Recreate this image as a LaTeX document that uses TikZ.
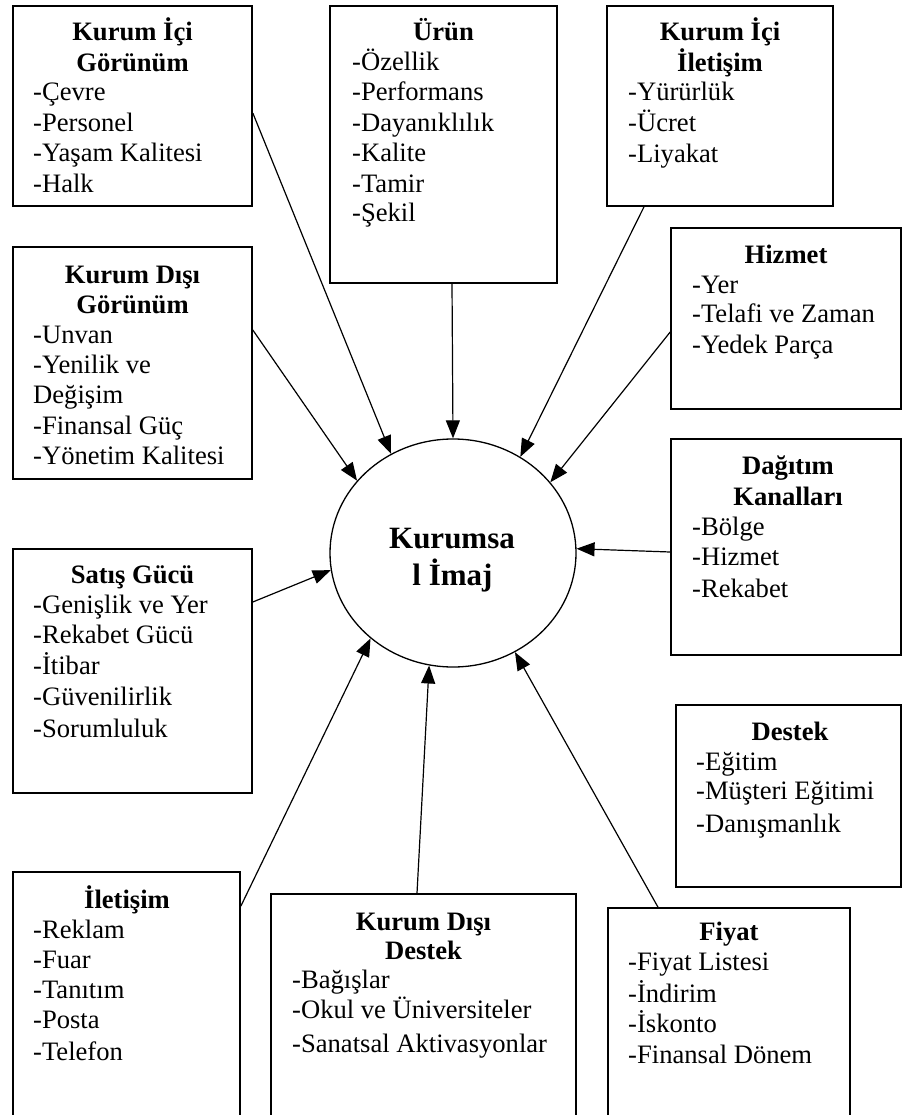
\documentclass[tikz,border=0pt]{standalone}
\usepackage{fontspec}
\setmainfont{Liberation Serif}
\usetikzlibrary{arrows.meta,shapes.geometric,calc}
\tikzset{
  box/.style={draw, rectangle, line width=1.6pt, inner sep=0pt},
  hd/.style={anchor=base, inner sep=0pt, font=\fontsize{26.6}{30.5}\selectfont\bfseries},
  itm/.style={anchor=base west, inner sep=0pt, font=\fontsize{26.6}{30.5}\selectfont},
  ctr/.style={anchor=base, inner sep=0pt, font=\fontsize{31}{37}\selectfont\bfseries},
  arr/.style={-{Triangle[length=18pt,width=14pt]}, line width=1.2pt}
}
\begin{document}
\begin{tikzpicture}[x=1pt,y=-1pt]
\clip (0,0) rectangle (902,1115);
\fill[white] (0,0) rectangle (902,1115);

% boxes
\node[box, minimum width=239pt, minimum height=200pt] (kig) at (132.5,106) {};
\node[box, minimum width=227pt, minimum height=277pt] (urun) at (443.5,144.5) {};
\node[box, minimum width=226pt, minimum height=200pt] (kii) at (720,106) {};
\node[box, minimum width=230pt, minimum height=181pt] (hiz) at (786,318.5) {};
\node[box, minimum width=239pt, minimum height=232pt] (kdg) at (132.5,363) {};
\node[box, minimum width=230pt, minimum height=216pt] (dag) at (786,547) {};
\node[box, minimum width=239pt, minimum height=244pt] (sat) at (132.5,671) {};
\node[box, minimum width=225pt, minimum height=182pt] (des) at (788.5,796) {};
\node[box, minimum width=227pt, minimum height=263pt] (ilet) at (126.5,1003.5) {};
\node[box, minimum width=305pt, minimum height=241pt] (kdd) at (423.5,1014.5) {};
\node[box, minimum width=242pt, minimum height=227pt] (fiy) at (729,1021.5) {};

% center ellipse
\node[draw, ellipse, line width=1.3pt, minimum width=246pt, minimum height=228pt, inner sep=0pt] (img) at (453,553) {};
\node[ctr] (img1) at (452,548) {Kurumsa};
\node[ctr] (img2) at (452.5,585) {l İmaj};

% Kurum İçi Görünüm
\node[hd] (kigh1) at (132.5,41) {Kurum İçi};
\node[hd] (kigh2) at (132.5,72) {Görünüm};
\foreach \y/\t [count=\i] in {101/-Çevre,132/-Personel,162/-Yaşam Kalitesi,193/-Halk}
  \node[itm] (kigt\i) at (33,\y) {\t};

% Ürün
\node[hd] (urunh) at (443.5,41) {Ürün};
\foreach \y/\t [count=\i] in {71/-Özellik,101/-Performans,132/-Dayanıklılık,162/-Kalite,193/-Tamir,222/-Şekil}
  \node[itm] (urunt\i) at (352,\y) {\t};

% Kurum İçi İletişim
\node[hd] (kiih1) at (720,41) {Kurum İçi};
\node[hd] (kiih2) at (720,72) {İletişim};
\foreach \y/\t [count=\i] in {101/-Yürürlük,132/-Ücret,163/-Liyakat}
  \node[itm] (kiit\i) at (628,\y) {\t};

% Hizmet
\node[hd] (hizh) at (786,263) {Hizmet};
\foreach \y/\t [count=\i] in {293/-Yer,322/-Telafi ve Zaman,353/-Yedek Parça}
  \node[itm] (hizt\i) at (692,\y) {\t};

% Kurum Dışı Görünüm
\node[hd] (kdgh1) at (132.5,283) {Kurum Dışı};
\node[hd] (kdgh2) at (132.5,313) {Görünüm};
\foreach \y/\t [count=\i] in {343/-Unvan,373/-Yenilik ve,403/Değişim,434/-Finansal Güç,464/-Yönetim Kalitesi}
  \node[itm] (kdgt\i) at (33,\y) {\t};

% Dağıtım Kanalları
\node[hd] (dagh1) at (788,474) {Dağıtım};
\node[hd] (dagh2) at (788,505) {Kanalları};
\foreach \y/\t [count=\i] in {535/-Bölge,565/-Hizmet,597/-Rekabet}
  \node[itm] (dagt\i) at (692,\y) {\t};

% Satış Gücü
\node[hd] (sath) at (132.5,583) {Satış Gücü};
\foreach \y/\t [count=\i] in {613/-Genişlik ve Yer,643/-Rekabet Gücü,674/-İtibar,705/-Güvenilirlik,737/-Sorumluluk}
  \node[itm] (satt\i) at (33,\y) {\t};

% Destek
\node[hd] (desh) at (790,740) {Destek};
\foreach \y/\t [count=\i] in {770/-Eğitim,799/-Müşteri Eğitimi,832/-Danışmanlık}
  \node[itm] (dest\i) at (696,\y) {\t};

% İletişim
\node[hd] (ileth) at (127,908) {İletişim};
\foreach \y/\t [count=\i] in {938/-Reklam,968/-Fuar,998/-Tanıtım,1028/-Posta,1060/-Telefon}
  \node[itm] (iltt\i) at (33,\y) {\t};

% Kurum Dışı Destek
\node[hd] (kddh1) at (423.5,930) {Kurum Dışı};
\node[hd] (kddh2) at (423.5,959) {Destek};
\foreach \y/\t [count=\i] in {988/-Bağışlar,1018/-Okul ve Üniversiteler,1052/-Sanatsal Aktivasyonlar}
  \node[itm] (kddt\i) at (292,\y) {\t};

% Fiyat
\node[hd] (fiyh) at (729,940) {Fiyat};
\foreach \y/\t [count=\i] in {970/-Fiyat Listesi,1002/-İndirim,1032/-İskonto,1063/-Finansal Dönem}
  \node[itm] (fiyt\i) at (628,\y) {\t};

% arrows
\draw[arr] ([yshift=-7pt]kig.east) -- (img.122);
\draw[arr] ([yshift=33pt]kdg.east) -- (img.143);
\draw[arr] ([xshift=8.5pt]urun.south) -- (img.90.5);
\draw[arr] ([xshift=-76pt]kii.south) -- (img.55);
\draw[arr] ([yshift=-13.5pt]hiz.west) -- (img.36);
\draw[arr] ([yshift=-5pt]dag.west) -- (img.2.3);
\draw[arr] ([yshift=69pt]sat.east) -- (img.188);
\draw[arr] ([yshift=-35pt]ilet.north east) -- (img.226);
\draw[arr] ([xshift=-6.5pt]kdd.north) -- (img.258);
\draw[arr] ([xshift=-71pt]fiy.north) -- (img.302.5);
\end{tikzpicture}
\end{document}
